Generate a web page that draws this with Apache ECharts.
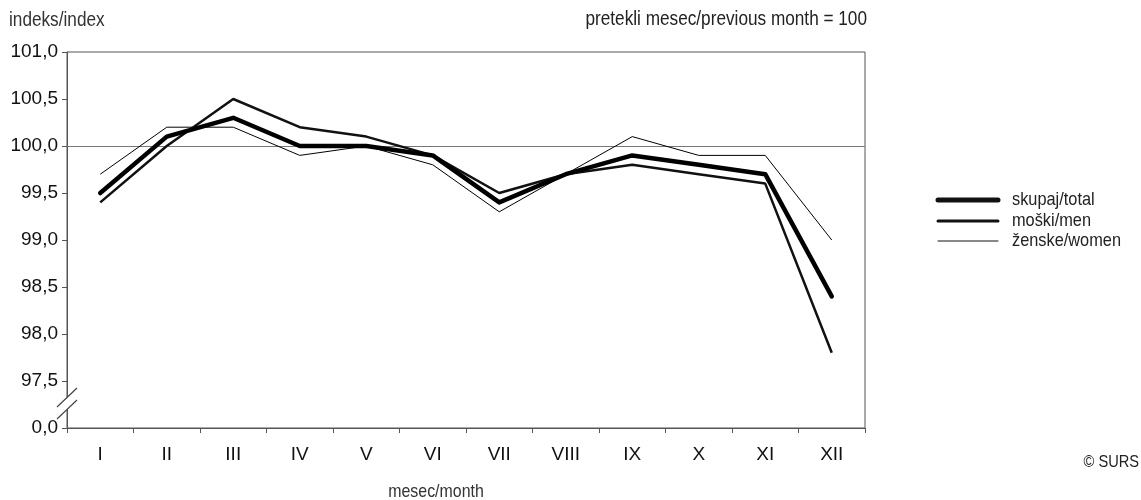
<!DOCTYPE html>
<html><head><meta charset="utf-8">
<script src="https://cdn.jsdelivr.net/npm/echarts@6/dist/echarts.min.js"></script>
<style>html,body{margin:0;padding:0;background:#fff}#c{width:1141px;height:500px}</style>
</head><body><div id="c"></div>
<script>
const categories = ['I','II','III','IV','V','VI','VII','VIII','IX','X','XI','XII'];
const total = [99.5, 100.1, 100.3, 100.0, 100.0, 99.9, 99.4, 99.7, 99.9, 99.8, 99.7, 98.4];
const men   = [99.4, 100.0, 100.5, 100.2, 100.1, 99.9, 99.5, 99.7, 99.8, 99.7, 99.6, 97.8];
const women = [99.7, 100.2, 100.2, 99.9, 100.0, 99.8, 99.3, 99.7, 100.1, 99.9, 99.9, 99.0];
const seriesNames = ['skupaj/total','moški/men','ženske/women'];
const yTicks = ['0,0','97,5','98,0','98,5','99,0','99,5','100,0','100,5','101,0'];

function hasFont(f){
  const c = document.createElement('canvas').getContext('2d');
  const s = 'mmmmwwwiiilll101,0 skupaj';
  c.font = '20px monospace'; const a = c.measureText(s).width;
  c.font = "20px '" + f + "', monospace"; const b = c.measureText(s).width;
  return Math.abs(a-b) > 0.5;
}
let narrow = null;
['Liberation Sans Narrow','Arial Narrow'].forEach(f=>{ if(!narrow && hasFont(f)) narrow = f; });
const FONT = narrow ? "'"+narrow+"',Arial,sans-serif" : "'Liberation Sans',Arial,sans-serif";
const SX = narrow ? 1 : 0.86;
const S = narrow ? {tick:22, title:19, leg:19, name:19, surs:18} : {tick:19, title:20, leg:19, name:18.5, surs:17};

const chart = echarts.init(document.getElementById('c'), null, {renderer:'canvas'});
const L = 67, T = 52, R = 865, B = 428;
const legY = [200, 221, 241], legW = [5, 3, 1];
function txt(x, y, text, size, align, fill){
  return {type:'text', x:x, y:y, scaleX:SX, scaleY:1,
    style:{text:text, font:size+'px '+FONT, fill:fill||'#222', align:align||'left', verticalAlign:'middle'}};
}
const legendGraphics = [];
seriesNames.forEach((n,i)=>{
  legendGraphics.push({type:'line', shape:{x1:938,y1:legY[i],x2:998,y2:legY[i]}, style:{stroke:'#111', lineWidth:legW[i], lineCap:'round'}});
  legendGraphics.push(txt(1012, legY[i], n, S.leg));
});
chart.setOption({
  animation:false,
  textStyle:{fontFamily:FONT},
  grid:{left:L, right:1141-R, top:T, bottom:500-B, show:true, borderColor:'#555', borderWidth:1},
  xAxis:{type:'category', data:categories, boundaryGap:true,
    axisLine:{lineStyle:{color:'#555'}}, axisTick:{show:true, length:5, lineStyle:{color:'#555'}},
    axisLabel:{fontFamily:FONT, fontSize:S.tick, color:'#111', margin:17}},
  yAxis:{type:'value', min:97, max:101, interval:0.5,
    axisLine:{show:true, lineStyle:{color:'#555'}}, axisTick:{show:true, length:5, lineStyle:{color:'#555'}},
    splitLine:{show:false},
    axisLabel:{fontFamily:FONT, fontSize:S.tick, color:'#111', margin:9,
      formatter:function(v){ const i = Math.round((v-97)/0.5); return yTicks[i]; }}},
  series:[
    {name:seriesNames[0], type:'line', data:total, symbol:'none', z:5,
      lineStyle:{color:'#000', width:4.5, cap:'round', join:'round'},
      markLine:{silent:true, symbol:'none', label:{show:false}, lineStyle:{color:'#777', width:1, type:'solid'},
        data:[{yAxis:100}], z:1}},
    {name:seriesNames[1], type:'line', data:men, symbol:'none', z:4,
      lineStyle:{color:'#111', width:2.5}},
    {name:seriesNames[2], type:'line', data:women, symbol:'none', z:3,
      lineStyle:{color:'#000', width:1}}
  ],
  graphic:[
    txt(9, 20, 'indeks/index', S.title, 'left', '#333'),
    txt(867, 19, 'pretekli mesec/previous month = 100', S.title, 'right'),
    txt(436, 492, 'mesec/month', S.name, 'center', '#333'),
    txt(1139, 462, '© SURS', S.surs, 'right'),
    {type:'polygon', shape:{points:[[58,406],[76,389],[76,401],[58,418]]}, style:{fill:'#fff'}, z:100},
    {type:'line', shape:{x1:57,y1:407,x2:77,y2:388}, style:{stroke:'#444', lineWidth:1.2}, z:101},
    {type:'line', shape:{x1:57,y1:419,x2:77,y2:400}, style:{stroke:'#444', lineWidth:1.2}, z:101}
  ].concat(legendGraphics)
});
</script></body></html>
